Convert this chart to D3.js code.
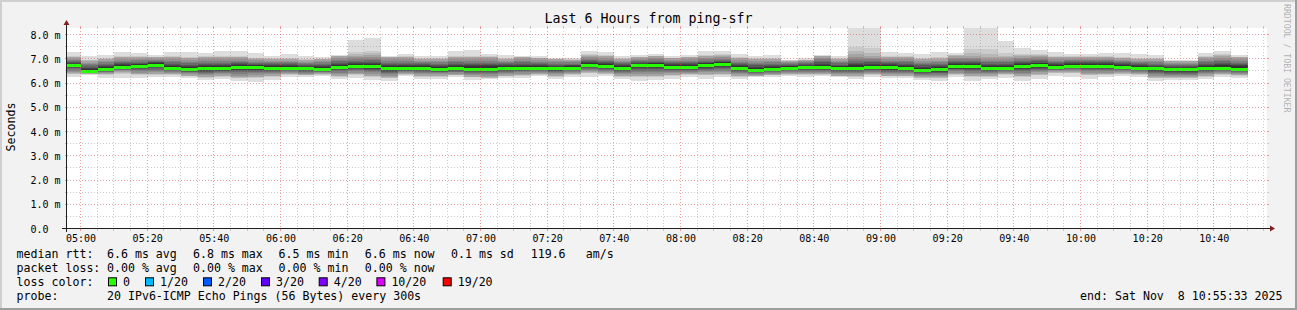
<!DOCTYPE html>
<html>
<head>
<meta charset="utf-8">
<title>Last 6 Hours from ping-sfr</title>
<script src="https://cdn.jsdelivr.net/npm/d3@7"></script>
<style>
  body { margin: 0; background: #f2f2f2; }
  svg { display: block; }
  text { font-family: "DejaVu Sans Mono", monospace; fill: #000; }
</style>
</head>
<body>
<svg id="chart"></svg>
<script>
//----------------------------DATA-----------------------------//
const chartStart = new Date(2025, 10, 8, 4, 55, 48);
const chartEnd = new Date(2025, 10, 8, 10, 55, 48);
const firstBinEnd = new Date(2025, 10, 8, 5, 0, 0);
const stepMinutes = 5;

// one value per 5 minute bin, milliseconds
const medianRtt = [6.72,6.49,6.57,6.65,6.68,6.74,6.61,6.57,6.58,6.58,
  6.64,6.64,6.61,6.61,6.58,6.57,6.65,6.69,6.69,6.58,
  6.58,6.60,6.57,6.60,6.57,6.57,6.61,6.61,6.61,6.58,
  6.61,6.73,6.69,6.61,6.72,6.72,6.65,6.63,6.72,6.76,
  6.60,6.53,6.57,6.61,6.63,6.65,6.59,6.59,6.65,6.63,
  6.61,6.53,6.55,6.67,6.67,6.60,6.60,6.67,6.71,6.65,
  6.69,6.69,6.69,6.65,6.61,6.58,6.54,6.54,6.61,6.61,
  6.57];
const pingMax = [7.26,7.08,7.13,7.26,7.20,7.15,7.26,7.26,7.20,7.31,
  7.31,7.22,7.09,7.18,7.09,7.04,7.13,7.75,7.84,7.08,
  7.18,7.08,7.08,7.31,7.34,7.18,7.13,7.11,7.08,7.01,
  7.01,7.31,7.26,7.08,7.13,7.18,7.08,7.13,7.31,7.31,
  7.18,7.08,7.13,6.94,7.01,7.13,7.08,8.31,8.36,7.26,
  7.20,7.18,7.26,7.22,8.23,8.34,7.72,7.42,7.34,7.26,
  7.18,7.18,7.22,7.20,7.18,7.15,6.93,6.93,7.20,7.31,
  7.13];
const upperBand = [7.04,6.90,6.97,7.04,7.04,7.04,7.04,7.00,7.04,7.04,
  7.04,6.97,6.97,6.97,6.93,6.97,7.08,7.11,7.13,7.04,
  7.04,6.97,6.97,7.04,7.04,7.04,6.97,7.04,7.00,6.97,
  6.94,7.11,7.08,6.97,7.04,7.08,7.00,7.04,7.08,7.11,
  7.00,6.97,6.97,6.90,6.93,7.11,6.97,7.18,7.11,7.04,
  7.04,6.97,6.97,7.11,7.11,7.04,7.04,7.11,7.11,7.04,
  7.04,7.04,7.04,7.01,6.97,6.97,6.87,6.87,7.04,7.11,
  7.04];
const lowerBand = [6.38,6.35,6.35,6.42,6.35,6.35,6.35,6.28,6.24,6.28,
  6.21,6.24,6.28,6.35,6.32,6.35,6.28,6.35,6.28,6.21,
  6.35,6.28,6.28,6.32,6.24,6.21,6.28,6.32,6.35,6.28,
  6.35,6.42,6.38,6.28,6.28,6.28,6.32,6.35,6.35,6.35,
  6.28,6.28,6.32,6.35,6.35,6.35,6.28,6.28,6.35,6.28,
  6.28,6.21,6.21,6.35,6.28,6.28,6.35,6.28,6.35,6.42,
  6.42,6.35,6.35,6.38,6.35,6.21,6.21,6.21,6.28,6.35,
  6.32];
const pingMin = [6.21,6.32,6.19,6.19,6.19,6.24,6.21,6.17,6.10,6.14,
  6.08,6.01,6.10,6.21,6.21,6.25,6.14,6.19,6.10,6.08,
  6.25,6.14,6.14,6.21,6.12,6.14,6.19,6.19,6.25,6.14,
  6.21,6.24,6.25,6.14,6.05,6.10,6.14,6.21,6.14,6.21,
  6.14,6.21,6.21,6.25,6.21,6.25,6.21,6.14,6.21,6.19,
  6.19,6.10,6.08,6.21,6.08,6.14,6.19,6.08,6.14,6.28,
  6.24,6.14,6.21,6.28,6.21,6.05,6.10,6.10,6.14,6.21,
  6.17];

const yTicks = [0, 1, 2, 3, 4, 5, 6, 7, 8];
const yMinorTicks = [0.5, 1.5, 2.5, 3.5, 4.5, 5.5, 6.5, 7.5];

const lossColors = ["#26ff00", "#00b8ff", "#0059ff", "#5e00ff", "#7e00ff", "#dd00ff", "#ff0000"];
const lossLabels = ["0", "1/20", "2/20", "3/20", "4/20", "10/20", "19/20"];
const rttStats = ["6.6 ms avg", "6.8 ms max", "6.5 ms min", "6.6 ms now", "0.1 ms sd", "119.6", "am/s"];
const lossStats = ["0.00 % avg", "0.00 % max", "0.00 % min", "0.00 % now"];
const probeText = "20 IPv6-ICMP Echo Pings (56 Bytes) every 300s";
const endText = "end: Sat Nov  8 10:55:33 2025";

//---------------------------LAYOUT----------------------------//
const W = 1297, H = 310;
const plot = {left: 67, top: 28, width: 1200, height: 200};
const legendCol = 16.6;
const rttX = [107, 193, 278.6, 364.8, 451, 530.7, 585.8];
const lossLabelX = [123, 160, 218, 276, 333.7, 391.4, 457.7];
const rowY = [258.3, 272.3, 286.3, 300.3];

// smokeping style grey shades, outermost first
const smokeShades = ["#dddddd", "#cacaca", "#b7b7b7", "#a4a4a4", "#919191",
  "#7e7e7e", "#6b6b6b", "#585858", "#454545", "#323232"];
const outerSteps = [0, 0.75, 0.9, 1];
const innerSteps = [0.18, 0.34, 0.48, 0.6, 0.71, 0.8];

const svg = d3.select("#chart").attr("width", W).attr("height", H);

// background and 3d frame
svg.append("rect").attr("width", W).attr("height", H).attr("fill", "#f2f2f2");
svg.append("rect").attr("width", W).attr("height", 2).attr("fill", "#cfcfcf");
svg.append("rect").attr("width", 2).attr("height", H).attr("fill", "#cfcfcf");
svg.append("rect").attr("y", H - 2).attr("width", W).attr("height", 2).attr("fill", "#9e9e9e");
svg.append("rect").attr("x", W - 2).attr("width", 2).attr("height", H).attr("fill", "#9e9e9e");

//----------------------------SCALES----------------------------//
const x = d3.scaleTime().domain([chartStart, chartEnd]).range([plot.left, plot.left + plot.width]);
const y = d3.scaleLinear().domain([0, 8.25]).range([plot.top + plot.height, plot.top]);

svg.append("rect")
  .attr("x", plot.left).attr("y", plot.top)
  .attr("width", plot.width).attr("height", plot.height)
  .attr("fill", "#ffffff");

svg.append("clipPath").attr("id", "clip")
  .append("rect")
  .attr("x", plot.left).attr("y", plot.top)
  .attr("width", plot.width).attr("height", plot.height);

//----------------------------SMOKE-----------------------------//
const bins = medianRtt.map((med, i) => {
  const end = d3.timeMinute.offset(firstBinEnd, i * stepMinutes);
  let start = d3.timeMinute.offset(end, -stepMinutes);
  if (start < chartStart) start = chartStart;
  return {start: start, end: end, med: med, hi: pingMax[i], uh: upperBand[i], ul: lowerBand[i], lo: pingMin[i]};
});

const layers = [];
bins.forEach(b => {
  const tops = outerSteps.map(f => b.hi - (b.hi - b.uh) * f)
    .concat(innerSteps.map(f => b.uh - (b.uh - b.med) * f));
  const bottoms = outerSteps.map(f => b.lo + (b.ul - b.lo) * f)
    .concat(innerSteps.map(f => b.ul + (b.med - b.ul) * f));
  tops.forEach((t, j) => layers.push({start: b.start, end: b.end, top: t, bottom: bottoms[j], shade: smokeShades[j]}));
});

const data = svg.append("g").attr("clip-path", "url(#clip)");

data.selectAll("rect.smoke")
  .data(layers)
  .enter()
  .append("rect")
  .attr("class", "smoke")
  .attr("x", d => x(d.start))
  .attr("width", d => x(d.end) - x(d.start))
  .attr("y", d => y(d.top))
  .attr("height", d => y(d.bottom) - y(d.top))
  .attr("fill", d => d.shade)
  .attr("shape-rendering", "crispEdges");

// median, coloured by loss (all 0/20 here)
data.selectAll("rect.median")
  .data(bins)
  .enter()
  .append("rect")
  .attr("class", "median")
  .attr("x", d => x(d.start))
  .attr("width", d => x(d.end) - x(d.start))
  .attr("y", d => Math.round(y(d.med)) - 1.5)
  .attr("height", 3)
  .attr("fill", lossColors[0])
  .attr("shape-rendering", "crispEdges");

//-----------------------------GRID-----------------------------//
const majorTimes = d3.timeMinute.every(20).range(chartStart, chartEnd);
const minorTimes = d3.timeMinute.every(5).range(chartStart, chartEnd).filter(t => t.getMinutes() % 20 !== 0);
const minorCol = "rgba(143,143,143,0.45)";
const majorCol = "rgba(222,79,79,0.55)";
const px = v => Math.round(v) - 0.5;

const grid = svg.append("g").attr("fill", "none").attr("stroke-width", 1);

function vGrid(times, col) {
  times.forEach(t => {
    const gx = px(x(t));
    grid.append("line").attr("x1", gx).attr("x2", gx)
      .attr("y1", plot.top).attr("y2", plot.top + plot.height)
      .attr("stroke", col).attr("stroke-dasharray", "1,2");
    grid.append("line").attr("x1", gx).attr("x2", gx)
      .attr("y1", plot.top - 2).attr("y2", plot.top).attr("stroke", col);
    grid.append("line").attr("x1", gx).attr("x2", gx)
      .attr("y1", plot.top + plot.height).attr("y2", plot.top + plot.height + 3).attr("stroke", col);
  });
}
function hGrid(vals, col) {
  vals.forEach(v => {
    const gy = Math.round(y(v)) + 0.5;
    grid.append("line").attr("x1", plot.left).attr("x2", plot.left + plot.width)
      .attr("y1", gy).attr("y2", gy)
      .attr("stroke", col).attr("stroke-dasharray", "1,2");
    grid.append("line").attr("x1", plot.left - 2).attr("x2", plot.left)
      .attr("y1", gy).attr("y2", gy).attr("stroke", col);
    grid.append("line").attr("x1", plot.left + plot.width).attr("x2", plot.left + plot.width + 2)
      .attr("y1", gy).attr("y2", gy).attr("stroke", col);
  });
}
vGrid(minorTimes, minorCol);
hGrid(yMinorTicks, minorCol);
vGrid(majorTimes, majorCol);
hGrid(yTicks.filter(v => v > 0), majorCol);

//-----------------------------AXES-----------------------------//
const baseY = plot.top + plot.height + 0.5;
svg.append("line")
  .attr("x1", plot.left - 5).attr("x2", plot.left + plot.width + 4)
  .attr("y1", baseY).attr("y2", baseY)
  .attr("stroke", "#1f1f1f");
svg.append("line")
  .attr("x1", plot.left - 0.5).attr("x2", plot.left - 0.5)
  .attr("y1", plot.top + plot.height + 4).attr("y2", plot.top - 4)
  .attr("stroke", "#1f1f1f");
svg.append("path")
  .attr("d", `M${plot.left + plot.width + 3},${baseY - 3}L${plot.left + plot.width + 8},${baseY}L${plot.left + plot.width + 3},${baseY + 3}Z`)
  .attr("fill", "#801f1f");
svg.append("path")
  .attr("d", `M${plot.left - 3.5},${plot.top - 3}L${plot.left - 0.5},${plot.top - 8}L${plot.left + 2.5},${plot.top - 3}Z`)
  .attr("fill", "#801f1f");

const xAxis = d3.axisBottom(x)
  .tickValues(majorTimes)
  .tickFormat(d3.timeFormat("%H:%M"))
  .tickSize(0)
  .tickPadding(6.4);

svg.append("g")
  .attr("transform", `translate(-0.5,${plot.top + plot.height})`)
  .call(xAxis)
  .call(g => g.select(".domain").remove())
  .selectAll("text")
  .style("font-family", "'DejaVu Sans Mono', monospace")
  .style("font-size", "10px");

const yAxis = d3.axisLeft(y)
  .tickValues(yTicks)
  .tickFormat(v => v === 0 ? "0.0" : d3.format(".1f")(v) + " m")
  .tickSize(0);

svg.append("g")
  .attr("transform", `translate(${plot.left},0)`)
  .call(yAxis)
  .call(g => g.select(".domain").remove())
  .selectAll("text")
  .attr("x", 30.5 - plot.left)
  .attr("dy", "0.4em")
  .attr("text-anchor", "start")
  .style("font-family", "'DejaVu Sans Mono', monospace")
  .style("font-size", "10px");

//----------------------------TEXTS-----------------------------//
svg.append("text")
  .attr("x", 648.5).attr("y", 23)
  .attr("text-anchor", "middle")
  .style("font-size", "13.3px")
  .text("Last 6 Hours from ping-sfr");

svg.append("text")
  .attr("transform", "translate(14.5,127) rotate(-90)")
  .attr("text-anchor", "middle")
  .style("font-size", "11.6px")
  .text("Seconds");

svg.append("text")
  .attr("transform", "translate(1284,4) rotate(90)")
  .style("font-size", "8.2px")
  .style("fill", "#000")
  .style("fill-opacity", 0.3)
  .text("RRDTOOL / TOBI OETIKER");

const legend = svg.append("g").style("font-size", "11.6px");

legend.append("text").attr("x", legendCol).attr("y", rowY[0]).text("median rtt:");
legend.selectAll("text.rtt")
  .data(rttStats).enter().append("text")
  .attr("class", "rtt")
  .attr("x", (d, i) => rttX[i]).attr("y", rowY[0])
  .text(d => d);

legend.append("text").attr("x", legendCol).attr("y", rowY[1]).text("packet loss:");
legend.selectAll("text.loss")
  .data(lossStats).enter().append("text")
  .attr("class", "loss")
  .attr("x", (d, i) => rttX[i]).attr("y", rowY[1])
  .text(d => d);

legend.append("text").attr("x", legendCol).attr("y", rowY[2]).text("loss color:");
legend.selectAll("rect.swatch")
  .data(lossColors).enter().append("rect")
  .attr("class", "swatch")
  .attr("x", (d, i) => lossLabelX[i] - 14.5).attr("y", rowY[2] - 8.5)
  .attr("width", 8).attr("height", 8)
  .attr("fill", d => d)
  .attr("stroke", "#000").attr("stroke-width", 1);
legend.selectAll("text.swatchlabel")
  .data(lossLabels).enter().append("text")
  .attr("class", "swatchlabel")
  .attr("x", (d, i) => lossLabelX[i]).attr("y", rowY[2])
  .text(d => d);

legend.append("text").attr("x", legendCol).attr("y", rowY[3]).text("probe:");
legend.append("text").attr("x", rttX[0]).attr("y", rowY[3]).text(probeText);
legend.append("text")
  .attr("x", 1282.5).attr("y", rowY[3])
  .attr("text-anchor", "end")
  .style("white-space", "pre")
  .text(endText);
</script>
</body>
</html>
